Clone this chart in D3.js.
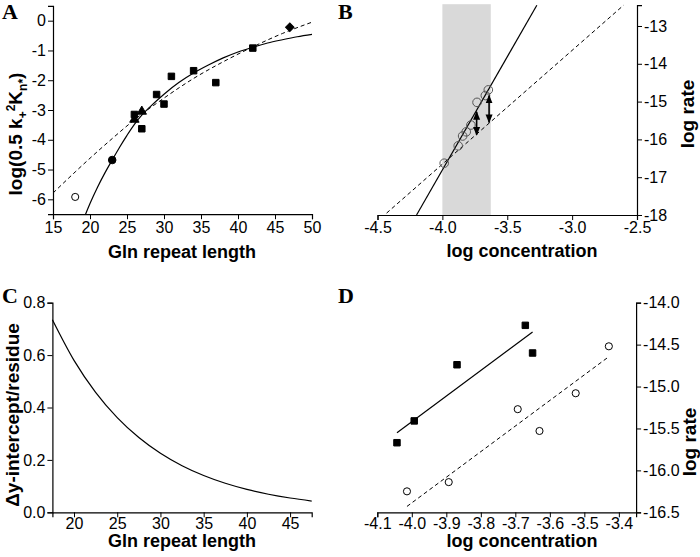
<!DOCTYPE html>
<html><head><meta charset="utf-8">
<script src="https://cdn.jsdelivr.net/npm/d3@7"></script>
<style>
body{margin:0;background:#fff}
svg{display:block}
text{font-family:Arial,"Liberation Sans",sans-serif;fill:#000}
</style>
</head><body>
<svg id="c" width="700" height="557"></svg>
<script>
// ---------- Panel A data ----------
const aOpenCircles = [[18, -5.92]];
const aFilledCircles = [[23, -4.68]];
const aTriangles = [[26, -3.32], [27, -3.05]];
const aSquares = [[26, -3.15], [27, -3.63], [29, -2.48], [30, -2.80], [31, -1.87], [34, -1.68], [37, -2.08], [42, -0.92]];
const aDiamonds = [[47, -0.22]];
const aSolidFit = [[19.4, -6.5], [20, -6.14], [21, -5.6], [22, -5.12], [23, -4.68], [24, -4.25], [25, -3.85], [26, -3.48], [27, -3.17], [28, -2.92], [30, -2.47], [32, -2.08], [34, -1.76], [36, -1.49], [38, -1.25], [40, -1.05], [42, -0.89], [44, -0.75], [46, -0.64], [48, -0.54], [50, -0.46]];
const aDashedFit = [[15, -5.79], [18, -5.08], [20, -4.62], [23, -3.96], [26, -3.33], [30, -2.60], [34, -1.94], [38, -1.38], [42, -0.88], [46, -0.43], [50, -0.05]];
const aXTicks = [15, 20, 25, 30, 35, 40, 45, 50];
const aXMinor = [17.5, 22.5, 27.5, 32.5, 37.5, 42.5, 47.5];
const aYTicks = [-6, -5, -4, -3, -2, -1, 0];
const aYMinor = [-5.5, -4.5, -3.5, -2.5, -1.5, -0.5, 0.5];

// ---------- Panel B data ----------
const bShade = [-4.0, -3.627];
const bCircles = [[-3.986, -16.63], [-3.878, -16.17], [-3.844, -15.91], [-3.816, -15.80], [-3.78, -15.62], [-3.733, -15.02], [-3.669, -14.84], [-3.646, -14.69]];
const bSolidFit = [[-4.199, -18.0], [-3.272, -12.45]];
const bDashedFit = [[-4.43, -17.95], [-2.603, -12.45]];
const bArrows = [[-3.736, -15.27, -15.88], [-3.64, -14.84, -15.55]];
const bXTicks = [-4.5, -4.0, -3.5, -3.0, -2.5];
const bXMinor = [-4.375, -4.25, -4.125, -3.875, -3.75, -3.625, -3.375, -3.25, -3.125, -2.875, -2.75, -2.625];
const bYTicks = [-18, -17, -16, -15, -14, -13];
const bYMinor = [-17.5, -16.5, -15.5, -14.5, -13.5, -12.5];

// ---------- Panel C data ----------
const cCurve = [[17.5, 0.735], [20, 0.580], [22.5, 0.458], [25, 0.3615], [27.5, 0.2854], [30, 0.2254], [32.5, 0.1779], [35, 0.1404], [37.5, 0.1108], [40, 0.0875], [42.5, 0.0690], [45, 0.0545], [47.5, 0.0430]];
const cXTicks = [20, 25, 30, 35, 40, 45];
const cXMinor = [17.5, 22.5, 27.5, 32.5, 37.5, 42.5, 47.5];
const cYTicks = [0.0, 0.2, 0.4, 0.6, 0.8];
const cYMinor = [0.1, 0.3, 0.5, 0.7];

// ---------- Panel D data ----------
const dSquares = [[-4.043, -15.67], [-3.993, -15.41], [-3.869, -14.74], [-3.671, -14.27], [-3.650, -14.60]];
const dSolidFit = [[-4.043, -15.55], [-3.650, -14.35]];
const dCircles = [[-4.014, -16.25], [-3.893, -16.14], [-3.693, -15.27], [-3.630, -15.53], [-3.525, -15.08], [-3.429, -14.52]];
const dDashedFit = [[-4.014, -16.43], [-3.431, -14.65]];
const dXTicks = [-4.1, -4.0, -3.9, -3.8, -3.7, -3.6, -3.5, -3.4];
const dXMinor = [-4.05, -3.95, -3.85, -3.75, -3.65, -3.55, -3.45, -3.35];
const dYTicks = [-16.5, -16.0, -15.5, -15.0, -14.5, -14.0];
const dYMinor = [-16.25, -15.75, -15.25, -14.75, -14.25];

// ---------- helpers ----------
const svg = d3.select("#c");
const fmt = dec => { const f = d3.format("." + dec + "f"); return d => f(d).replace("\u2212", "-"); };

function axes(x, y, o) {
  const g = svg.append("g");
  const yb = y.range()[0];
  const xa = o.right ? x.range()[1] : x.range()[0];
  const gx = g.append("g").attr("transform", `translate(0,${yb})`);
  gx.call(d3.axisBottom(x).tickValues(o.xMinor).tickSize(3).tickFormat(""));
  gx.call(d3.axisBottom(x).tickValues(o.xTicks).tickSize(5).tickPadding(o.xPad).tickFormat(o.xFmt));
  const gy = g.append("g").attr("transform", `translate(${xa},0)`);
  const yAx = o.right ? d3.axisRight : d3.axisLeft;
  gy.call(yAx(y).tickValues(o.yMinor).tickSize(3).tickFormat(""));
  gy.call(yAx(y).tickValues(o.yTicks).tickSize(5).tickPadding(2).tickFormat(o.yFmt));
  g.selectAll(".domain").attr("stroke", "#000").attr("stroke-width", 1.2);
  g.selectAll(".tick line").attr("stroke", "#000").attr("stroke-width", 1);
  g.selectAll(".tick text").attr("font-size", 16).attr("font-family", "Arial, 'Liberation Sans', sans-serif");
  return g;
}
function sym(type, size) { return d3.symbol().type(type).size(size)(); }
function points(x, y, data, type, size, fill, stroke, rot) {
  svg.append("g").selectAll("path").data(data).join("path")
    .attr("d", sym(type, size))
    .attr("transform", d => `translate(${x(d[0])},${y(d[1])})` + (rot ? ` rotate(${rot})` : ""))
    .attr("fill", fill).attr("stroke", stroke).attr("stroke-width", 1);
}
function line(x, y, data, dashed, curve) {
  svg.append("path").datum(data)
    .attr("d", d3.line().x(d => x(d[0])).y(d => y(d[1])).curve(curve || d3.curveLinear))
    .attr("fill", "none").attr("stroke", "#000").attr("stroke-width", dashed ? 1 : 1.2)
    .attr("stroke-dasharray", dashed ? "4,3" : null);
}
function letter(t, x, y) {
  svg.append("text").text(t).attr("x", x).attr("y", y)
    .attr("font-weight", "bold").attr("font-size", 22).style("font-family", "'Liberation Serif','Times New Roman',serif");
}
function xTitle(t, x, y) {
  svg.append("text").text(t).attr("x", x).attr("y", y).attr("text-anchor", "middle")
    .attr("font-weight", "bold").attr("font-size", 18);
}
function yTitle(t, x, y) {
  return svg.append("text").text(t).attr("transform", `translate(${x},${y}) rotate(-90)`)
    .attr("text-anchor", "middle").attr("font-weight", "bold").attr("font-size", 19);
}

// ---------- Panel A ----------
{
  const x = d3.scaleLinear().domain([15, 50]).range([53, 312]);
  const y = d3.scaleLinear().domain([-6.5, 0.5]).range([214.2, 5.8]);
  line(x, y, aDashedFit, true, d3.curveMonotoneX);
  line(x, y, aSolidFit, false, d3.curveMonotoneX);
  axes(x, y, {xPad: 2, xTicks: aXTicks, xMinor: aXMinor, yTicks: aYTicks, yMinor: aYMinor, xFmt: d => String(d), yFmt: d => String(d)});
  points(x, y, aOpenCircles, d3.symbolCircle, 40, "#fff", "#000");
  points(x, y, aFilledCircles, d3.symbolCircle, 45, "#000", "#000");
  points(x, y, aSquares, d3.symbolSquare, 42, "#000", "#000");
  points(x, y, aTriangles, d3.symbolTriangle, 38, "#000", "#000");
  points(x, y, aDiamonds, d3.symbolSquare, 36, "#000", "#000", 45);
  letter("A", 2, 19);
  xTitle("Gln repeat length", 182, 258);
  const t = svg.append("text").attr("transform", "translate(22,134) rotate(-90)")
    .attr("text-anchor", "middle").attr("font-weight", "bold").attr("font-size", 19);
  t.append("tspan").text("log(0.5 k");
  t.append("tspan").text("+").attr("font-size", 12).attr("dy", 5);
  t.append("tspan").text("2").attr("font-size", 12).attr("dy", -12);
  t.append("tspan").text("K").attr("dy", 7);
  t.append("tspan").text("n*").attr("font-size", 12).attr("dy", 5);
  t.append("tspan").text(")").attr("dy", -5);
}

// ---------- Panel B ----------
{
  const x = d3.scaleLinear().domain([-4.5, -2.5]).range([377.5, 637]);
  const y = d3.scaleLinear().domain([-18, -12.45]).range([215, 5.2]);
  svg.append("rect").attr("x", x(bShade[0])).attr("width", x(bShade[1]) - x(bShade[0]))
    .attr("y", y(-12.45) - 1).attr("height", y(-18) - y(-12.45) + 1).attr("fill", "#d9d9d9");
  line(x, y, bDashedFit, true);
  line(x, y, bSolidFit, false);
  axes(x, y, {right: true, xPad: 2, xTicks: bXTicks, xMinor: bXMinor, yTicks: bYTicks, yMinor: bYMinor, xFmt: fmt(1), yFmt: d => String(d)});
  points(x, y, bCircles, d3.symbolCircle, 58, "none", "#555");
  const defs = svg.append("defs");
  defs.append("marker").attr("id", "ah").attr("viewBox", "0 0 10 10").attr("refX", 9).attr("refY", 5)
    .attr("markerWidth", 5.5).attr("markerHeight", 5.5).attr("orient", "auto-start-reverse")
    .append("path").attr("d", "M0,1 L10,5 L0,9 Z").attr("fill", "#000");
  svg.append("g").selectAll("line").data(bArrows).join("line")
    .attr("x1", d => x(d[0])).attr("x2", d => x(d[0]))
    .attr("y1", d => y(d[1])).attr("y2", d => y(d[2]))
    .attr("stroke", "#000").attr("stroke-width", 1.6)
    .attr("marker-start", "url(#ah)").attr("marker-end", "url(#ah)");
  letter("B", 338, 19);
  xTitle("log concentration", 522, 257);
  yTitle("log rate", 694, 114);
}

// ---------- Panel C ----------
{
  const x = d3.scaleLinear().domain([17.5, 47.5]).range([52.4, 311.7]);
  const y = d3.scaleLinear().domain([0, 0.8]).range([512.3, 302.7]);
  line(x, y, cCurve, false, d3.curveMonotoneX);
  axes(x, y, {xPad: 0, xTicks: cXTicks, xMinor: cXMinor, yTicks: cYTicks, yMinor: cYMinor, xFmt: d => String(d), yFmt: fmt(1)});
  letter("C", 2, 303);
  xTitle("Gln repeat length", 182, 547);
  yTitle("\u0394y-intercept/residue", 19, 415);
}

// ---------- Panel D ----------
{
  const x = d3.scaleLinear().domain([-4.1, -3.35]).range([377.3, 636.1]);
  const y = d3.scaleLinear().domain([-16.5, -14]).range([512.3, 302.7]);
  line(x, y, dDashedFit, true);
  line(x, y, dSolidFit, false);
  axes(x, y, {right: true, xPad: 0, xTicks: dXTicks, xMinor: dXMinor, yTicks: dYTicks, yMinor: dYMinor, xFmt: fmt(1), yFmt: fmt(1)});
  points(x, y, dSquares, d3.symbolSquare, 42, "#000", "#000");
  points(x, y, dCircles, d3.symbolCircle, 40, "#fff", "#000");
  letter("D", 338, 303);
  xTitle("log concentration", 522, 547);
  yTitle("log rate", 696, 442);
}
</script>
</body></html>
